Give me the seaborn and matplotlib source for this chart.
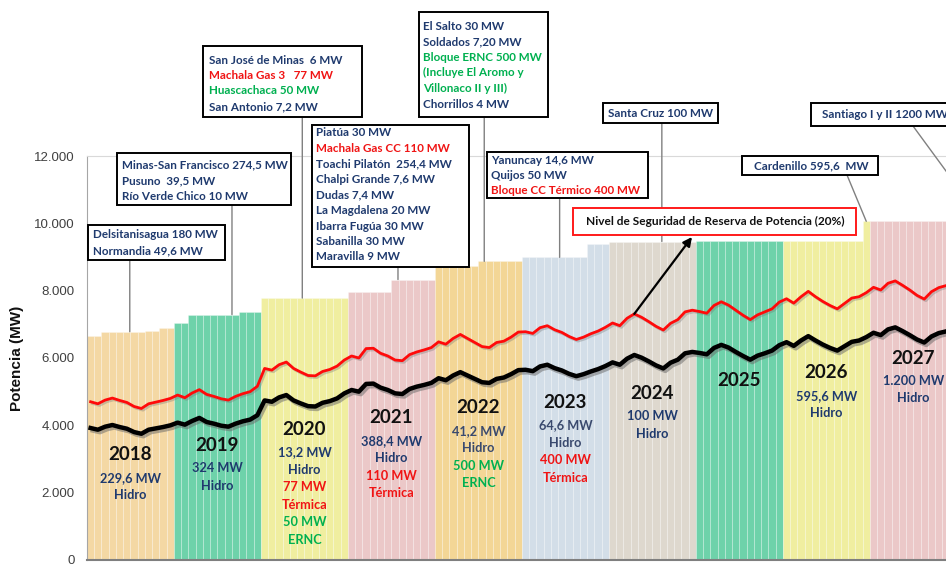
import numpy as np
import pandas as pd
import seaborn as sns
import matplotlib.pyplot as plt
import matplotlib.patheffects as pe
from matplotlib.patches import Rectangle, ConnectionPatch
from matplotlib.transforms import Affine2D, blended_transform_factory, offset_copy
from matplotlib.ticker import FuncFormatter, MultipleLocator

# ---------------------------------------------------------------- data
YEARS = list(range(2018, 2028))
YEAR_COLORS = ["#F4D8A4", "#6ED2AA", "#F0EEA0", "#EBC8C8", "#F3D696",
               "#D3DEE8", "#DED8CE", "#6ED2AA", "#F0EEA0", "#EBC8C8"]

# installed capacity, MW, one value per month (Jan 2018 .. Dec 2027)
CAPACITY = (
    [6640, 6640, 6780, 6780, 6780, 6780, 6780, 6780, 6790, 6790, 6880, 6880]
    + [7050, 7050, 7290, 7290, 7290, 7290, 7290, 7290, 7290, 7380, 7380, 7380]
    + [7780] * 12
    + [7950] * 6 + [8330] * 6
    + [8720] * 6 + [8870] * 6
    + [8990] * 9 + [9380] * 3
    + [9460] * 12
    + [9470] * 12
    + [9470] * 11 + [10060]
    + [10060] * 11 + [11260]
)

# monthly peak demand, MW
DEMAND = [
    3920, 3870, 3960, 4010, 3950, 3900, 3800, 3750, 3870, 3910, 3950, 4000,
    4080, 4020, 4130, 4220, 4100, 4050, 3990, 3960, 4050, 4120, 4170, 4300,
    4740, 4700, 4830, 4900, 4740, 4650, 4570, 4560, 4670, 4720, 4800, 4950,
    5050, 5000, 5230, 5240, 5120, 5050, 4950, 4930, 5080, 5150, 5200, 5260,
    5400, 5340, 5480, 5580, 5480, 5380, 5280, 5260, 5380, 5420, 5520, 5640,
    5650, 5610, 5750, 5800, 5700, 5630, 5530, 5460, 5520, 5600, 5670, 5760,
    5870, 5800, 5980, 6090, 6010, 5900, 5780, 5690, 5860, 5950, 6140, 6180,
    6150, 6110, 6300, 6390, 6310, 6180, 6060, 5950, 6070, 6140, 6220, 6380,
    6470, 6360, 6520, 6650, 6520, 6400, 6300, 6220, 6350, 6480, 6520, 6620,
    6750, 6680, 6850, 6910, 6800, 6680, 6550, 6460, 6640, 6740, 6790, 6850,
]

# reserve security level (20 %), MW
RESERVE = [
    4700, 4640, 4750, 4810, 4740, 4680, 4560, 4500, 4640, 4690, 4740, 4800,
    4900, 4820, 4960, 5060, 4920, 4860, 4790, 4750, 4860, 4940, 5000, 5160,
    5690, 5640, 5800, 5880, 5690, 5580, 5480, 5470, 5600, 5660, 5760, 5940,
    6060, 6000, 6280, 6290, 6140, 6060, 5940, 5920, 6100, 6180, 6240, 6310,
    6480, 6410, 6580, 6700, 6580, 6460, 6340, 6310, 6460, 6500, 6620, 6770,
    6780, 6730, 6900, 6960, 6840, 6760, 6640, 6550, 6620, 6720, 6800, 6910,
    7040, 6960, 7180, 7310, 7210, 7080, 6940, 6830, 7030, 7140, 7370, 7420,
    7380, 7330, 7560, 7670, 7570, 7420, 7270, 7140, 7280, 7370, 7460, 7660,
    7760, 7630, 7820, 7980, 7820, 7680, 7560, 7460, 7620, 7780, 7820, 7940,
    8100, 8020, 8220, 8290, 8160, 8020, 7860, 7750, 7970, 8090, 8150, 8220,
]

NAVY, RED, GREEN = "#1F3A6E", "#F01414", "#00B050"

YEAR_NOTES = [
    [("229,6 MW", NAVY), ("Hidro", NAVY)],
    [("324 MW", NAVY), ("Hidro", NAVY)],
    [("13,2 MW", NAVY), ("Hidro", NAVY), ("77 MW", RED), ("Térmica", RED),
     ("50 MW", GREEN), ("ERNC", GREEN)],
    [("388,4 MW", NAVY), ("Hidro", NAVY), ("110 MW", RED), ("Térmica", RED)],
    [("41,2 MW", "#3A4A6E"), ("Hidro", "#3A4A6E"), ("500 MW", GREEN), ("ERNC", GREEN)],
    [("64,6 MW", "#3A4A6E"), ("Hidro", "#3A4A6E"), ("400 MW", RED), ("Térmica", RED)],
    [("100 MW", NAVY), ("Hidro", NAVY)],
    [],
    [("595,6 MW", NAVY), ("Hidro", NAVY)],
    [("1.200 MW", NAVY), ("Hidro", NAVY)],
]
# vertical position of each year label (MW scale)
YEAR_LABEL_Y = [3120, 3415, 3890, 4220, 4515, 4690, 4960, 5345, 5555, 6000]

# ---------------------------------------------------------------- frame
n = len(CAPACITY)
df = pd.DataFrame({
    "mes": np.arange(n),
    "capacidad": CAPACITY,
    "anio": [str(YEARS[i // 12]) for i in range(n)],
    "demanda": DEMAND,
    "reserva": RESERVE,
})
palette = {str(y): c for y, c in zip(YEARS, YEAR_COLORS)}

W, H = 946, 564
fig = plt.figure(figsize=(W / 100, H / 100), dpi=100)
ax = fig.add_axes([87 / W, 4 / H, 1 - 87 / W, (560 - 156) / H])
PX = Affine2D().scale(1 / W, -1 / H).translate(0, 1) + fig.transFigure
XPX = blended_transform_factory(ax.transData, PX)

sns.barplot(data=df, x="mes", y="capacidad", hue="anio", palette=palette,
            dodge=False, width=1.0, native_scale=True, legend=False,
            edgecolor=(1, 1, 1, 0.28), linewidth=0.6, saturation=1, ax=ax)

sns.lineplot(data=df, x="mes", y="reserva", color="#FF0A0A", lw=2.0, ax=ax,
             zorder=4,
             path_effects=[pe.SimpleLineShadow(offset=(1.2, -1.2), shadow_color="#777777", alpha=0.35),
                           pe.Normal()])
sns.lineplot(data=df, x="mes", y="demanda", color="black", lw=3.2, ax=ax,
             zorder=4,
             path_effects=[pe.SimpleLineShadow(offset=(1.5, -1.8), shadow_color="#666666", alpha=0.5),
                           pe.Normal()])

ax.set_xlim(-0.5, 118.0)
ax.set_ylim(0, 12000)
ax.yaxis.set_major_locator(MultipleLocator(2000))
ax.yaxis.set_major_formatter(FuncFormatter(lambda v, p: f"{int(v):,}".replace(",", ".")))
ax.set_xticks([])
ax.set_xlabel("")
ax.set_ylabel("Potencia (MW)", fontsize=11, fontweight="bold",
              family="Liberation Sans", color="#111111", labelpad=7)
ax.tick_params(axis="y", length=0, pad=9, labelsize=9.5, labelcolor="#404040")
for lab in ax.get_yticklabels():
    lab.set_family("Liberation Sans")
ax.spines["right"].set_visible(False)
ax.spines["top"].set_color("#D9D9D9")
ax.spines["top"].set_linewidth(0.8)
ax.spines["left"].set_color("#A6A6A6")
ax.spines["bottom"].set_color("#7F7F7F")
ax.spines["bottom"].set_linewidth(1.5)
ax.set_facecolor("white")

# ---------------------------------------------------------------- year labels
FONT = "Lato"
for k, (yr, ylab, notes) in enumerate(zip(YEARS, YEAR_LABEL_Y, YEAR_NOTES)):
    xc = 12 * k + 5.5
    ax.text(xc, ylab, str(yr), ha="center", va="center", fontsize=13.5,
            fontweight="bold", family=FONT, color="#111111", zorder=6)
    for j, (s, c) in enumerate(notes):
        tr = offset_copy(ax.transData, fig=fig, y=-(23 + 17.5 * j), units="dots")
        ax.text(xc, ylab, s, transform=tr, ha="center", va="center",
                fontsize=9.2, fontweight="bold", family=FONT, color=c, zorder=6)


# ---------------------------------------------------------------- callouts
def callout(x0, y0, x1, y1, lines, tx, ty, dy=15.5, fs=8.4, edge="black"):
    fig.add_artist(Rectangle((x0, y0), x1 - x0, y1 - y0, transform=PX,
                             facecolor="white", edgecolor=edge, lw=1.4, zorder=10))
    for j, (s, c) in enumerate(lines):
        fig.text(tx, ty + j * dy, s, transform=PX, color=c, fontsize=fs,
                 fontweight="bold", family=FONT, ha="left", va="center", zorder=11)


def leader_down(mx, y_box):
    cap = CAPACITY[int(mx)]
    fig.add_artist(ConnectionPatch(xyA=(mx, y_box), coordsA=XPX,
                                   xyB=(mx, cap), coordsB=ax.transData,
                                   color="#808080", lw=1.0, zorder=5))


def leader_slant(px, py, m):
    fig.add_artist(ConnectionPatch(xyA=(px, py), coordsA=PX,
                                   xyB=(m, CAPACITY[m]), coordsB=ax.transData,
                                   color="#808080", lw=1.0, zorder=5))


leader_down(5.4, 260)
callout(88, 225, 225, 260,
        [("Delsitanisagua 180 MW", NAVY), ("Normandia 49,6 MW", NAVY)], 93, 235, 15.5)

leader_down(19.5, 205)
callout(117, 153, 291, 205,
        [("Minas-San Francisco 274,5 MW", NAVY), ("Pusuno  39,5 MW", NAVY),
         ("Río Verde Chico 10 MW", NAVY)], 122, 165, 16)

leader_down(29.2, 117)
callout(203, 46, 362, 117,
        [("San José de Minas  6 MW", NAVY), ("Machala Gas 3   77 MW", RED),
         ("Huascachaca 50 MW", GREEN), ("San Antonio 7,2 MW", NAVY)], 209, 60, 15.5)

leader_down(42.4, 267)
callout(312, 125, 469, 267,
        [("Piatúa 30 MW", NAVY), ("Machala Gas CC 110 MW", RED),
         ("Toachi Pilatón  254,4 MW", NAVY), ("Chalpi Grande 7,6 MW", NAVY),
         ("Dudas 7,4 MW", NAVY), ("La Magdalena 20 MW", NAVY),
         ("Ibarra Fugúa 30 MW", NAVY), ("Sabanilla 30 MW", NAVY),
         ("Maravilla 9 MW", NAVY)], 316, 133, 15.5)

leader_down(54.3, 117)
callout(419, 12, 548, 117,
        [("El Salto 30 MW", NAVY), ("Soldados 7,20 MW", NAVY),
         ("Bloque ERNC 500 MW", GREEN), ("(Incluye El Aromo y", GREEN),
         ("Villonaco II y III)", GREEN), ("Chorrillos 4 MW", NAVY)], 423, 26, 15.6)

leader_down(64.7, 198)
callout(487, 152, 648, 198,
        [("Yanuncay 14,6 MW", NAVY), ("Quijos 50 MW", NAVY),
         ("Bloque CC Térmico 400 MW", RED)], 491, 160, 15.5)

leader_down(78.8, 123)
callout(603, 103, 718, 123, [("Santa Cruz 100 MW", NAVY)], 608, 113.5)

leader_slant(847, 175, 107)
callout(742, 156, 878, 175, [("Cardenillo 595,6  MW", NAVY)], 754, 166)

leader_slant(913, 126, 119)
callout(811, 103, 962, 126, [("Santiago I y II 1200 MW", NAVY)], 822, 115)

# reserve-level note with arrow from the red curve
callout(573, 208, 856, 235,
        [("Nivel de Seguridad de Reserva de Potencia (20%)", "#111111")], 586, 221.5,
        fs=8.6, edge="#FF1A1A")
fig.add_artist(ConnectionPatch(xyA=(75, RESERVE[75]), coordsA=ax.transData,
                               xyB=(692, 237), coordsB=PX, color="black", lw=1.6,
                               arrowstyle="-|>", mutation_scale=13, zorder=9))

fig.savefig("out.png", dpi=100)
